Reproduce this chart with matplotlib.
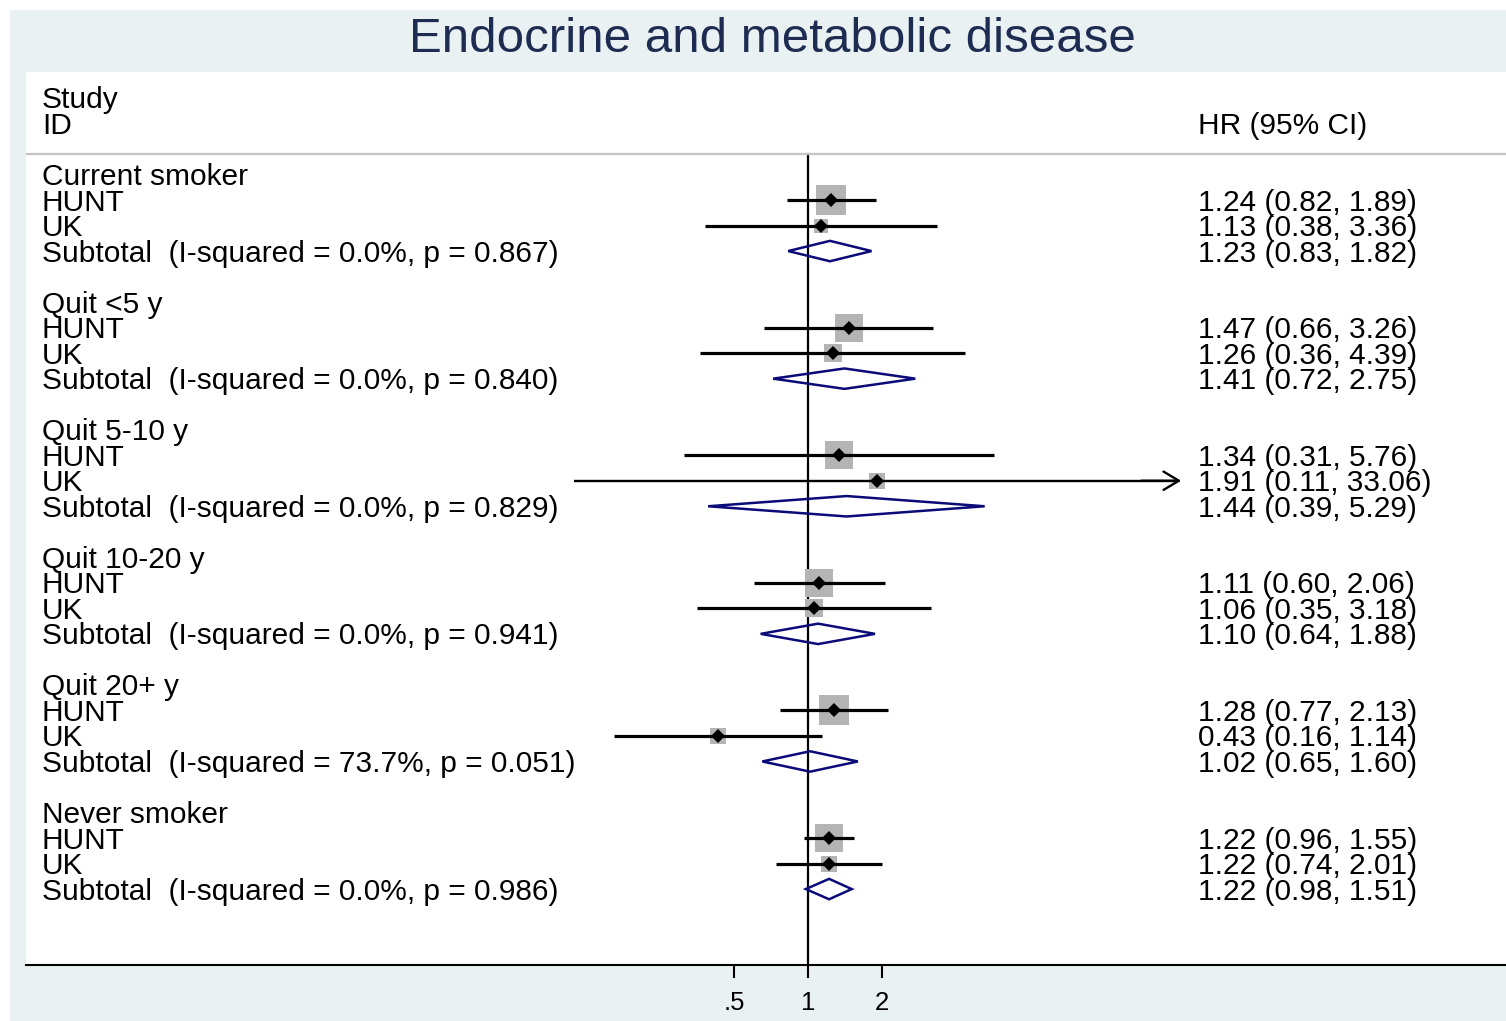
import numpy as np
import matplotlib.pyplot as plt
import matplotlib.transforms as mtransforms
from matplotlib.patches import Rectangle, Polygon

plt.rcParams['font.family'] = ['Liberation Sans', 'DejaVu Sans']

# hazard ratios by smoking status, HUNT and UK cohorts plus pooled subtotal
groups = ["Current smoker", "Quit <5 y", "Quit 5-10 y", "Quit 10-20 y", "Quit 20+ y", "Never smoker"]
studies = ["HUNT", "UK"]

hunt_hr = [1.24, 1.47, 1.34, 1.11, 1.28, 1.22]
hunt_lo = [0.82, 0.66, 0.31, 0.60, 0.77, 0.96]
hunt_hi = [1.89, 3.26, 5.76, 2.06, 2.13, 1.55]

uk_hr = [1.13, 1.26, 1.91, 1.06, 0.43, 1.22]
uk_lo = [0.38, 0.36, 0.11, 0.35, 0.16, 0.74]
uk_hi = [3.36, 4.39, 33.06, 3.18, 1.14, 2.01]

sub_hr = [1.23, 1.41, 1.44, 1.10, 1.02, 1.22]
sub_lo = [0.83, 0.72, 0.39, 0.64, 0.65, 0.98]
sub_hi = [1.82, 2.75, 5.29, 1.88, 1.60, 1.51]

i_squared = [0.0, 0.0, 0.0, 0.0, 73.7, 0.0]
p_het = [0.867, 0.840, 0.829, 0.941, 0.051, 0.986]

# percent weight of HUNT within each subgroup (UK gets the rest)
hunt_weight = [82, 68, 74, 72, 77, 75]

xticks = [0.5, 1, 2]
xticklabels = [".5", "1", "2"]

W, H = 1506, 1021
DPI = 100
fig = plt.figure(figsize=(W / DPI, H / DPI), dpi=DPI, facecolor="white")

bg = "#EAF1F3"
fig.patches.append(Rectangle((10 / W, 0), 1 - 10 / W, 1 - 10 / H, transform=fig.transFigure,
                             facecolor=bg, edgecolor="none", zorder=-10))

# plot region in pixels
left, right, top, bottom = 26, 1506, 72, 965
ax = fig.add_axes([left / W, 1 - bottom / H, (right - left) / W, (bottom - top) / H])
ax.set_facecolor("white")
ax.set_xscale("log")

# x mapping: HR = 1 at pixel 808, 244.2 px per decade
px_one, px_dec = 808, 244.2
ax.set_xlim(10 ** ((left - px_one) / px_dec), 10 ** ((right - px_one) / px_dec))

# y in row units, row 0 at pixel 174.5, 25.52 px per row
row0, row_h = 174.5, 25.52
ax.set_ylim((bottom - row0) / row_h, (top - row0) / row_h)

for s in ["top", "right", "left"]:
    ax.spines[s].set_visible(False)
ax.spines["bottom"].set_linewidth(1.5)
ax.set_yticks([])
ax.set_xticks(xticks)
ax.set_xticklabels(xticklabels, fontsize=18.5)
ax.xaxis.set_minor_locator(plt.NullLocator())
ax.tick_params(axis="x", length=9, width=1.5, pad=10)

tr = mtransforms.blended_transform_factory(ax.transAxes, ax.transData)
lab_x = (42 - left) / (right - left)
stat_x = (1198 - left) / (right - left)
fs = 21.5
dy = 0.1  # text sits a touch below the row line


def put(x, y, s):
    ax.text(x, y + dy, s, transform=tr, fontsize=fs, va="center", ha="left")


# header
put(lab_x, -3.0, "Study")
put(lab_x, -2.0, "ID")
put(stat_x, -2.0, "HR (95% CI)")
sep_y = (154 - row0) / row_h
ax.plot([0, 1], [sep_y, sep_y], transform=tr, color="#C4C4C4", lw=1.6, zorder=2)

# null line
ax.plot([1, 1], [sep_y, (bottom - row0) / row_h], color="black", lw=1.6, zorder=1)

box_k = 3.31 * 0.72  # marker side in points per sqrt(weight)


def stat_text(hr, lo, hi):
    return f"{hr:.2f} ({lo:.2f}, {hi:.2f})"


for g, name in enumerate(groups):
    r = g * 5
    put(lab_x, r, name)
    rows = [
        (hunt_hr[g], hunt_lo[g], hunt_hi[g], hunt_weight[g]),
        (uk_hr[g], uk_lo[g], uk_hi[g], 100 - hunt_weight[g]),
    ]
    for k, (hr, lo, hi, w) in enumerate(rows):
        y = r + 1 + k
        put(lab_x, y, studies[k])
        put(stat_x, y, stat_text(hr, lo, hi))
        ax.plot([hr], [y], marker="s", markersize=box_k * np.sqrt(w), color="#B4B4B4",
                markeredgewidth=0, zorder=2)
        if hi > 20:
            ax.plot([lo, hi * 0.95], [y, y], color="black", lw=1.7, zorder=3, solid_capstyle="butt")
            ax.annotate("", xy=(hi * 1.02, y), xytext=(hi * 0.7, y),
                        arrowprops=dict(arrowstyle="->,head_length=0.5,head_width=0.3", lw=1.7,
                                        color="black", mutation_scale=22, shrinkA=0, shrinkB=0),
                        zorder=3)
        else:
            ax.plot([lo, hi], [y, y], color="black", lw=2.3, zorder=3, solid_capstyle="butt")
        ax.plot([hr], [y], marker="D", markersize=7, color="black", markeredgewidth=0, zorder=4)

    ys = r + 3
    put(lab_x, ys, f"Subtotal  (I-squared = {i_squared[g]:.1f}%, p = {p_het[g]:.3f})")
    put(stat_x, ys, stat_text(sub_hr[g], sub_lo[g], sub_hi[g]))
    d = 0.4
    ax.add_patch(Polygon([(sub_lo[g], ys), (sub_hr[g], ys - d), (sub_hi[g], ys), (sub_hr[g], ys + d)],
                         closed=True, fill=False, edgecolor="#0A0A78", lw=1.8, zorder=3))

fig.text(772 / W, 1 - 39 / H, "Endocrine and metabolic disease", fontsize=35.5,
         color="#1E2C52", ha="center", va="center")

fig.savefig("out.png", dpi=DPI, facecolor="white")
